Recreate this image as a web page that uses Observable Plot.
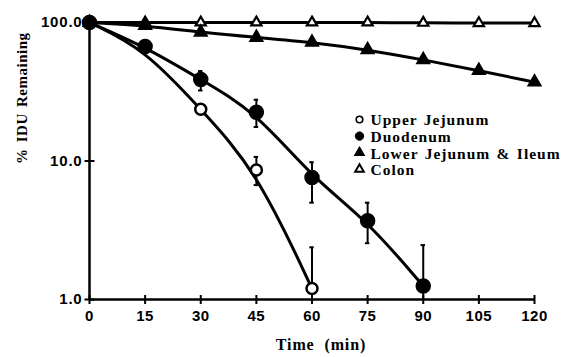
<!DOCTYPE html>
<html>
<head>
<meta charset="utf-8">
<script src="https://cdn.jsdelivr.net/npm/d3@7"></script>
<script src="https://cdn.jsdelivr.net/npm/@observablehq/plot@0.6"></script>
<style>
  html, body { margin: 0; padding: 0; background: #fff; }
  #chart { width: 563px; height: 357px; }
  #chart text { white-space: pre; }
</style>
</head>
<body>
<div id="chart"></div>
<script>
// ---- data ----
const times = [0, 15, 30, 45, 60, 75, 90, 105, 120];
const xTicks = [0, 15, 30, 45, 60, 75, 90, 105, 120];
const yTicks = [1, 10, 100];

const upperJejunum = [100, 64, 23.6, 8.6, 1.2];             // t = 0..60
const duodenum = [100, 67, 38.8, 22.5, 7.6, 3.7, 1.25];      // t = 0..90
const lowerJejunumIleum = [100, 95, 85, 78, 72, 63.6, 53.8, 45, 37.1];
const colon = [100, 100, 100, 100, 100, 100, 99.5, 99, 99];

const duodenumErrHi = [null, 70, 44.6, 27.7, 9.8, 5.0, 2.47];
const duodenumErrLo = [null, 63, 32.3, 17.6, 5.0, 2.55, 0.5];
const upperErrHi = [null, null, null, 10.7, 2.38];
const upperErrLo = [null, null, null, 6.7, 0.5];

const legendLabels = ["Upper Jejunum", "Duodenum", "Lower Jejunum & Ileum", "Colon"];
const xTitle = "Time  (min)";
const yTitle = "% IDU Remaining";

// ---- tables ----
const mk = (vals, name) => vals.map((v, i) => ({t: times[i], v, name}));
const uj = mk(upperJejunum, "Upper Jejunum");
const du = mk(duodenum, "Duodenum");
const lj = mk(lowerJejunumIleum, "Lower Jejunum & Ileum");
const co = mk(colon, "Colon");

const errs = [
  ...duodenumErrHi.map((h, i) => ({t: times[i], hi: h, lo: duodenumErrLo[i]})),
  ...upperErrHi.map((h, i) => ({t: times[i], hi: h, lo: upperErrLo[i]}))
].filter(d => d.hi != null);

const vTick = {draw(ctx, size) { ctx.moveTo(0, -4.5); ctx.lineTo(0, 4.5); }};
const hTick = {draw(ctx, size) { ctx.moveTo(-5, 0); ctx.lineTo(5, 0); }};

const fontSans = "'Liberation Sans', Arial, sans-serif";
const fontSerif = "'Liberation Serif', 'Times New Roman', serif";

// legend marks
const legendSymbols = [
  {symbol: "circle", fill: "white", stroke: "black", r: 3.3, sw: 1.6},
  {symbol: "circle", fill: "black", stroke: "black", r: 4.2, sw: 1},
  {symbol: "triangle", fill: "black", stroke: "black", r: 3.6, sw: 1.2},
  {symbol: "triangle", fill: "white", stroke: "black", r: 3.2, sw: 2}
];
const legendMarks = legendLabels.flatMap((label, i) => [
  Plot.dot([label], {frameAnchor: "top-left", dx: 270, dy: 97 + i * 16.6,
    symbol: legendSymbols[i].symbol, r: legendSymbols[i].r,
    fill: legendSymbols[i].fill, stroke: legendSymbols[i].stroke, strokeWidth: legendSymbols[i].sw}),
  Plot.text([label], {frameAnchor: "top-left", lineAnchor: "middle", dx: 281, dy: 98 + i * 16.6,
    text: d => d, textAnchor: "start", fontSize: 15.5, fontWeight: "bold",
    fontFamily: fontSerif, fill: "black"})
]);

const chart = Plot.plot({
  width: 563,
  height: 357,
  marginLeft: 89,
  marginRight: 29,
  marginTop: 22,
  marginBottom: 58,
  style: {background: "white", color: "black"},
  x: {domain: [0, 120], axis: null},
  y: {type: "log", domain: [1, 100], axis: null},
  marks: [
    // axis lines
    Plot.ruleX([0], {stroke: "black", strokeWidth: 2.5}),
    Plot.ruleY([1], {stroke: "black", strokeWidth: 2.5}),
    // ticks crossing axes
    Plot.dot(xTicks, {x: d => d, y: 1, symbol: vTick, stroke: "black", strokeWidth: 2, fill: "none"}),
    Plot.dot(yTicks, {x: 0, y: d => d, symbol: hTick, stroke: "black", strokeWidth: 2, fill: "none"}),
    // tick labels
    Plot.text(xTicks, {x: d => d, y: 1, text: d => String(d), dy: 17, fontSize: 15, fontWeight: "bold",
      fontFamily: fontSans, fill: "black"}),
    Plot.text(yTicks, {x: 0, y: d => d, text: d => d.toFixed(1), dx: -7, textAnchor: "end", fontSize: 15,
      fontWeight: "bold", fontFamily: fontSans, fill: "black"}),
    // axis titles
    Plot.text([xTitle], {frameAnchor: "bottom", dx: 9, dy: 50, text: d => d, fontSize: 16, fontWeight: "bold",
      fontFamily: fontSerif, fill: "black"}),
    Plot.text([yTitle], {frameAnchor: "left", dx: -67, dy: 3, rotate: -90, text: d => d, fontSize: 15,
      fontWeight: "bold", fontFamily: fontSerif, fill: "black"}),
    // lines
    Plot.line(co, {x: "t", y: "v", stroke: "black", strokeWidth: 3, curve: "basis"}),
    Plot.line(lj, {x: "t", y: "v", stroke: "black", strokeWidth: 3, curve: "basis"}),
    Plot.line(du, {x: "t", y: "v", stroke: "black", strokeWidth: 3, curve: "basis"}),
    Plot.line(uj, {x: "t", y: "v", stroke: "black", strokeWidth: 3, curve: "basis"}),
    // error bars
    Plot.ruleX(errs, {x: "t", y1: "lo", y2: "hi", stroke: "black", strokeWidth: 2, clip: true}),
    Plot.ruleY(errs, {y: "hi", x1: d => d.t - 0.6, x2: d => d.t + 0.6, stroke: "black", strokeWidth: 2, clip: true}),
    Plot.ruleY(errs, {y: "lo", x1: d => d.t - 0.6, x2: d => d.t + 0.6, stroke: "black", strokeWidth: 2, clip: true}),
    // points
    Plot.dot(co.slice(1), {x: "t", y: "v", symbol: "triangle", r: 3.8, fill: "white", stroke: "black", strokeWidth: 2.2}),
    Plot.dot(lj, {x: "t", y: "v", symbol: "triangle", r: 4.8, fill: "black", stroke: "black", strokeWidth: 1.5}),
    Plot.dot(du, {x: "t", y: "v", r: 7, fill: "black", stroke: "black"}),
    Plot.dot(uj.slice(2), {x: "t", y: "v", r: 5.5, fill: "white", stroke: "black", strokeWidth: 2.5}),
    ...legendMarks
  ]
});

// letter spacing tweaks (Plot has no letterSpacing option)
d3.select(chart).selectAll("text").each(function () {
  const s = this.textContent;
  const sel = d3.select(this);
  if (legendLabels.includes(s)) sel.attr("letter-spacing", "1px").attr("word-spacing", "1.5px");
  else if (s === xTitle) sel.attr("letter-spacing", "0.9px");
  else if (s === yTitle) sel.attr("letter-spacing", "0.5px").attr("word-spacing", "2px");
  else if (/^\d+\.\d$/.test(s)) sel.attr("letter-spacing", "0.8px");
  else if (/^\d+$/.test(s)) sel.attr("letter-spacing", "0.5px");
});
document.getElementById("chart").appendChild(chart);
</script>
</body>
</html>
